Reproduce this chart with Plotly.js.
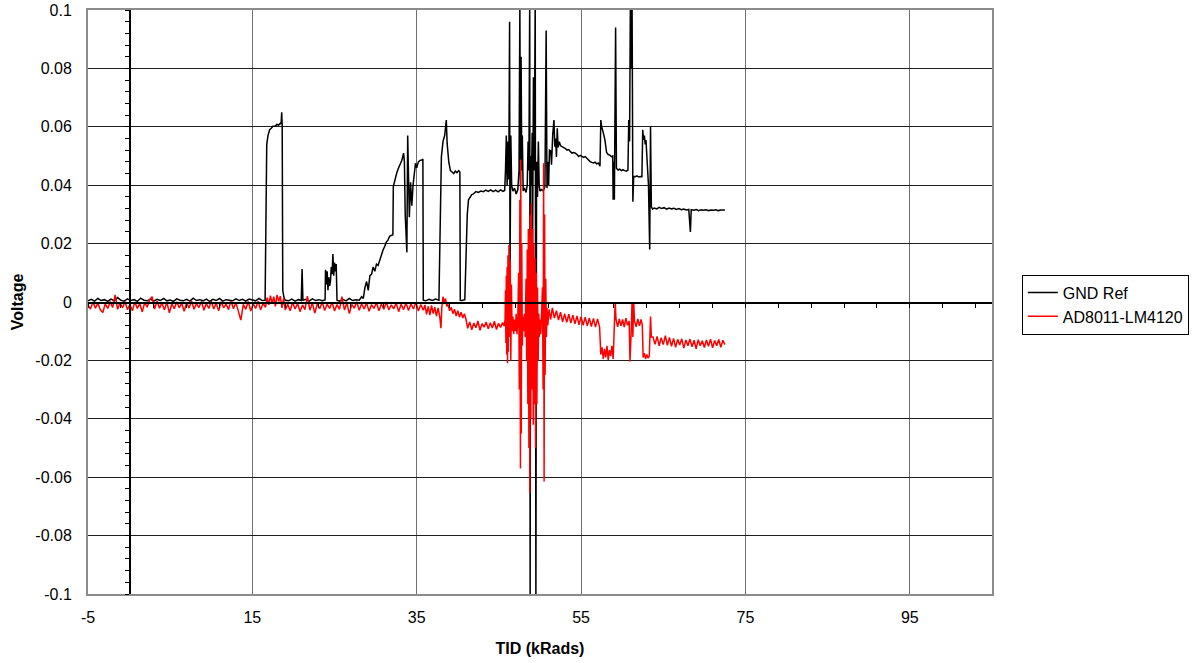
<!DOCTYPE html>
<html><head><meta charset="utf-8">
<script src="https://cdn.plot.ly/plotly-3.0.1.min.js"></script>
<style>html,body{margin:0;padding:0;background:#fff}#chart{width:1199px;height:663px}</style>
</head><body><div id="chart"></div>
<script>
const seriesNames = ['GND Ref', 'AD8011-LM4120'];

const gndX = [
-5,-4.6,-4.2,-3.8,-3.4,-3.0,-2.6,-2.2,-1.8,-1.4, -1.0,-0.6,-0.2,0.2,0.6,1.0,1.4,1.8,2.2,2.6,
3.0,3.4,3.8,4.2,4.6,5.0,5.4,5.8,6.2,6.6, 7.0,7.4,7.8,8.2,8.6,9.0,9.4,9.8,10.2,10.6,
11.0,11.4,11.8,12.2,12.6,13.0,13.4,13.8,14.2,14.6, 15.0,15.4,15.8,16.2,16.55,
16.65,16.75,16.9,17.1,17.3,17.5,17.8,18.0,18.2,18.4,18.5,18.57,18.63,18.7,18.85,19.0,
19.4,19.8,20.2,20.6,20.95,21.05,21.15,21.5,21.9,22.3,22.7,23.1,23.5,23.85,
23.9,24.0,24.1,24.2,24.3,24.4,24.5,24.6,24.7,24.8,24.9,25.0,25.1,25.2,25.3,
25.6,26.0,26.4,26.8,27.2,27.6,28.0,
28.3,28.5,28.7,28.9,29.1,29.3,29.5,29.7,29.9,30.1, 30.3,30.5,30.7,30.9,31.1,31.3,31.5,31.7,31.9,32.1,
32.15,32.4,32.6,32.8,33.0,33.2,33.4,33.5,33.6,33.7, 33.8,33.9,34.0,34.1,34.25,34.4,34.55,34.7,34.85,35.0,
35.2,35.4,35.6,35.75,35.8,
36.1,36.5,36.9,37.3,37.7,
37.8,37.9,38.0,38.2,38.4,38.6,38.7,38.9,39.1,39.3,39.5,39.7,39.9,40.1,40.25,40.3,
40.5,40.85,
40.95,41.05,41.15,41.3,41.5,41.7,41.9,42.2,42.5,42.8, 43.1,43.4,43.7,44.0,44.3,44.6,44.9,45.2,45.5,45.7,
45.8,45.9,46.0,46.1,46.2,46.3,46.35,46.45,46.55,46.7, 46.9,47.1,47.3,47.45,47.55,47.62,47.7,47.78,47.85,47.95,
48.1,48.3,48.45,48.55,48.65,48.75,48.8,48.85,48.95,49.05, 49.1,49.2,49.3,49.42,49.5,49.58,49.7,49.8,49.9,50.0,
50.2,50.4,50.6,50.75,50.85,50.95,51.05,
51.15,51.3,51.4,51.55,51.7,51.8,51.9,52.0,52.1,52.2, 52.35,52.5,52.7,52.9,53.1,53.3,53.5,53.7,53.9,54.1,
54.3,54.5,54.7,54.9,55.1,55.3,55.5,55.7,55.9,56.1, 56.3,56.5,56.7,56.9,57.1,57.3,
57.4,57.5,57.7,57.9,58.1,58.3,58.5,58.7,58.85,58.9, 58.95,59.05,59.2,59.3,59.5,59.7,59.9,60.1,60.3,60.5,
60.7,60.8,60.9,61.0,61.1,61.2,61.3,61.4,61.6,61.8, 62.0,62.2,62.4,
62.5,62.6,62.7,62.8,62.9,63.0,63.1,63.2,63.35,63.45, 63.55,63.7,63.9,64.2,64.5,64.8,65.1,65.4,65.7,66.0,
66.3,66.6,66.9,67.2,67.5,67.8,68.1,68.3,68.4,68.7, 69.0,69.3,69.6,69.9,70.2,70.5,70.8,71.1,71.4,71.7,
72.0,72.3,72.5
];
const gndY = [
0.0004,0.0009,0.0003,0.0012,0.0005,0.0008,0.0002,0.0010,0.0004,0.0015, 0.0006,0.0003,0.0011,0.0005,0.0008,0.0002,0.0013,0.0006,0.0004,0.0010,
0.0003,0.0009,0.0005,0.0012,0.0004,0.0007,0.0002,0.0011,0.0006,0.0004, 0.0009,0.0003,0.0013,0.0005,0.0008,0.0004,0.0010,0.0002,0.0009,0.0005,
0.0012,0.0003,0.0008,0.0006,0.0004,0.0011,0.0005,0.0009,0.0003,0.0010, 0.0006,0.0004,0.0012,0.0005,0.0006,
0.040,0.054,0.057,0.059,0.0595,0.0602,0.0603,0.0608,0.0606,0.0612,0.061,0.065,0.060,0.004,0.0015,0.0006,
0.0004,0.0010,0.0003,0.0008,0.0005,0.0113,0.0006,0.0009,0.0003,0.0011,0.0005,0.0008,0.0004,0.0007,
0.011,0.006,0.0105,0.004,0.0085,0.0055,0.007,0.012,0.0095,0.0164,0.009,0.0135,0.0105,0.013,0.0006,
0.0003,0.0009,0.0004,0.0012,0.0005,0.0008,0.0006,
0.0018,0.0012,0.005,0.007,0.004,0.009,0.0095,0.012,0.0105,0.013, 0.0125,0.0144,0.016,0.0178,0.019,0.0205,0.0212,0.0225,0.0228,0.023,
0.0395,0.043,0.0445,0.046,0.0475,0.0486,0.051,0.048,0.030,0.024, 0.017,0.057,0.045,0.029,0.041,0.033,0.040,0.043,0.0475,0.046,
0.048,0.0485,0.0486,0.049,0.0006,
0.0004,0.0009,0.0005,0.0010,0.0006,
0.020,0.033,0.0497,0.055,0.057,0.0623,0.0543,0.048,0.045,0.0445,0.044,0.0448,0.0443,0.045,0.0445,0.0006,
0.0005,0.0008,
0.0144,0.022,0.030,0.035,0.036,0.0368,0.037,0.0378,0.0375,0.038, 0.0378,0.0383,0.0379,0.0384,0.0378,0.0383,0.0377,0.0384,0.0379,0.0382,
0.045,0.057,0.040,0.055,0.042,0.096,0.0087,0.057,0.040,0.038, 0.039,0.037,0.0385,0.045,0.102,0.040,0.084,0.045,0.057,0.038,
0.039,0.0375,0.040,0.055,0.045,0.105,-0.105,0.050,0.040,0.058, 0.018,0.077,0.045,0.105,-0.105,0.048,0.036,0.055,0.040,0.038,
0.0385,0.038,0.0395,0.093,0.039,0.048,0.040,
0.052,0.0518,0.047,0.0575,0.0623,0.0532,0.056,0.0497,0.0595,0.053, 0.0549,0.0535,0.0532,0.0528,0.0525,0.052,0.0522,0.0515,0.051,0.0512,
0.051,0.0505,0.0498,0.0502,0.0497,0.0495,0.0498,0.0492,0.0486,0.0481, 0.0478,0.0476,0.0479,0.0473,0.0476,0.0465,
0.0623,0.060,0.058,0.0555,0.0512,0.0505,0.0503,0.0498,0.0500,0.035, 0.048,0.035,0.094,0.0458,0.0452,0.0455,0.045,0.0453,0.045,0.0448,
0.0452,0.0623,0.055,0.105,0.080,0.105,0.0343,0.043,0.0429,0.0432, 0.0428,0.043,0.0429,
0.059,0.0555,0.057,0.054,0.0555,0.050,0.045,0.040,0.018,0.060, 0.0326,0.0318,0.0322,0.0319,0.0324,0.032,0.0323,0.0318,0.0322,0.0319,
0.0321,0.0317,0.032,0.0316,0.0318,0.0315,0.0317,0.024,0.0316,0.0314, 0.0317,0.0313,0.0316,0.0314,0.0316,0.0313,0.0315,0.0314,0.0316,0.0313,
0.0315,0.0314,0.0315
];

const adX = [
-5,-4.7,-4.4,-4.1,-3.8,-3.5,-3.2,-2.9,-2.6,-2.3, -2.0,-1.7,-1.4,-1.1,-0.8,-0.5,-0.2,0.1,0.4,0.7,
1.0,1.3,1.6,1.9,2.2,2.5,2.8,3.1,3.4,3.7, 4.0,4.3,4.6,4.9,5.2,5.5,5.8,6.1,6.4,6.7,
7.0,7.3,7.6,7.9,8.2,8.5,8.8,9.1,9.4,9.7, 10.0,10.3,10.6,10.9,11.2,11.5,11.8,12.1,12.4,12.7,
13.0,13.3,13.6,13.9,14.2,14.5,14.8,15.1,15.4,15.7, 16.0,16.3,16.6,
16.8,17.0,17.2,17.4,17.6,17.8,18.0,18.2,18.4,18.6,18.8,19.0,
19.3,19.6,19.9,20.2,20.5,20.8,21.1,21.4,21.7,22.0, 22.3,22.6,22.9,23.2,23.5,23.8,24.1,24.4,24.7,25.0,
25.3,25.6,25.9,26.2,26.5,26.8,27.1,27.4,27.7,28.0, 28.3,28.6,28.9,29.2,29.5,29.8,30.1,30.4,30.7,31.0,
31.3,31.6,31.9,32.2,32.5,32.8,33.1,33.4,33.7,34.0, 34.3,34.6,34.9,35.2,35.5,
35.8,36.0,36.2,36.4,36.6,36.8,37.0,37.2,37.4,37.6, 37.8,37.95,38.05,38.2,38.35,38.5,38.65,38.8,39.0,39.2,
39.4,39.6,39.8,40.0,40.2,40.4,40.6,40.8,41.0,
41.2,41.45,41.7,41.95,42.2,42.45,42.7,42.95,43.2,43.45, 43.7,43.95,44.2,44.45,44.7,44.95,45.2,45.45,45.65,
45.75,45.8,45.85,45.9,45.95,46.0,46.05,46.1,46.15,46.22, 46.3,46.38,46.45,46.52,46.6,46.7,46.8,46.9,47.0,47.1,
47.2,47.3,47.4,47.48,47.55,47.62,47.66,47.72,47.78,47.85, 47.92,48.0,48.1,48.2,48.3,48.38,48.45,48.52,48.58,48.65,
48.7,48.76,48.82,48.88,48.95,49.02,49.1,49.18,49.25,49.32, 49.4,49.47,49.55,49.62,49.7,49.78,49.85,49.92,50.0,50.1,
50.2,50.3,50.38,50.44,50.5,50.56,50.62,50.7,50.78,50.86, 50.95,
51.1,51.3,51.5,51.75,52.0,52.25,52.5,52.75,53.0,53.25, 53.5,53.75,54.0,54.25,54.5,54.75,55.0,55.25,55.5,55.75,
56.0,56.25,56.5,56.75,57.0,57.25,
57.4,57.55,57.7,57.85,58.0,58.15,58.3,58.45,58.6,58.75, 58.9,59.05,59.15,59.25,59.45,59.65,59.85,60.05,60.25,60.45,
60.65,60.85,60.95,61.1,61.2,61.3,61.4,61.5,61.7,61.9, 62.1,62.3,62.45,62.55,62.7,62.85,63.0,63.15,63.3,63.45,
63.55,
63.75,64.0,64.25,64.5,64.75,65.0,65.25,65.5,65.75,66.0, 66.25,66.5,66.75,67.0,67.25,67.5,67.75,68.0,68.25,68.5,
68.75,69.0,69.25,69.5,69.75,70.0,70.25,70.5,70.75,71.0, 71.25,71.5,71.75,72.0,72.25,72.5
];
const adY = [
-0.0010,-0.0024,0.0000,-0.0021,-0.0004,-0.0027,-0.0036,-0.0006,-0.0022,0.0002, -0.0019,0.0024,-0.0025,-0.0003,-0.0020,0.0001,-0.0026,-0.0008,-0.0030,0.0000,
-0.0022,-0.0005,-0.0034,-0.0002,-0.0018,0.0008,0.0018,-0.0024,0.0003,-0.0021, -0.0003,-0.0027,-0.0001,-0.0037,-0.0006,-0.0023,0.0001,-0.0020,-0.0004,-0.0032,
-0.0002,-0.0021,0.0004,-0.0025,-0.0006,-0.0019,0.0002,-0.0028,-0.0005,-0.0022, 0.0003,-0.0024,-0.0004,-0.0030,0.0001,-0.0020,-0.0007,-0.0026,0.0004,-0.0023,
-0.0002,-0.0029,-0.0062,-0.0008,-0.0025,0.0002,-0.0031,-0.0006,-0.0022,0.0003, -0.0027,-0.0005,-0.0018,
0.0015,-0.0010,0.0022,-0.0005,0.0018,-0.0015,0.0024,0.0002,0.0020,-0.0020,0.0012,-0.0027,
-0.0008,-0.0030,-0.0002,-0.0024,-0.0005,-0.0033,-0.0010,-0.0026,0.0020,-0.0028, -0.0003,-0.0038,-0.0006,-0.0023,0.0000,-0.0029,-0.0007,-0.0022,-0.0001,-0.0031,
-0.0009,-0.0025,0.0018,-0.0027,-0.0004,-0.0040,-0.0008,-0.0021,0.0001,-0.0028, -0.0006,-0.0024,-0.0003,-0.0032,-0.0009,-0.0022,-0.0002,-0.0030,-0.0007,-0.0025,
0.0000,-0.0027,-0.0010,-0.0023,-0.0004,-0.0033,-0.0008,-0.0026,-0.0003,-0.0029, -0.0006,-0.0024,-0.0001,-0.0031,-0.0009,
-0.0028,-0.0010,-0.0042,-0.0015,-0.0045,-0.0012,-0.0040,-0.0018,-0.0048,-0.0020, -0.0050,-0.0090,-0.0020,0.0018,-0.0005,0.0012,-0.0015,-0.0008,-0.0030,-0.0018,
-0.0040,-0.0025,-0.0048,-0.0030,-0.0052,-0.0035,-0.0055,-0.0040,-0.0060,
-0.0090,-0.0068,-0.0095,-0.0072,-0.0088,-0.0065,-0.0097,-0.0074,-0.0086,-0.0069, -0.0092,-0.0071,-0.0089,-0.0066,-0.0094,-0.0073,-0.0087,-0.0070,-0.0083,
-0.006,0.004,-0.014,0.009,-0.018,0.012,-0.021,0.016,-0.017,0.0195, -0.012,0.014,-0.020,0.006,-0.010,-0.005,-0.011,-0.006,-0.010,-0.004,
-0.011,-0.006,0.010,-0.030,0.035,-0.057,0.0488,-0.045,0.020,-0.015, -0.005,-0.010,-0.004,-0.012,0.008,-0.020,0.018,-0.035,0.025,-0.050,
0.023,-0.0654,0.030,-0.040,0.0338,-0.030,0.025,-0.042,0.020,-0.035, 0.015,-0.050,0.010,-0.035,0.005,-0.020,-0.004,-0.012,-0.006,-0.011,
-0.005,0.005,-0.030,0.0475,-0.0615,0.030,-0.025,0.008,-0.012,-0.002, -0.008,
-0.0025,-0.0060,-0.0020,-0.0055,-0.0030,-0.0062,-0.0035,-0.0068,-0.0040,-0.0070, -0.0042,-0.0072,-0.0045,-0.0075,-0.0048,-0.0078,-0.0050,-0.0080,-0.0052,-0.0082,
-0.0055,-0.0084,-0.0056,-0.0086,-0.0058,-0.0085,
-0.0180,-0.0155,-0.0195,-0.0160,-0.0190,-0.0150,-0.0198,-0.0165,-0.0185,-0.0150, -0.0195,-0.0080,0.0000,-0.0060,-0.0085,-0.0058,-0.0082,-0.0060,-0.0086,-0.0055,
-0.0080,-0.0065,-0.0204,-0.0100,0.0000,-0.0120,0.0000,-0.0065,-0.0085,-0.0058, -0.0082,-0.0060,-0.0080,-0.0190,-0.0175,-0.0195,-0.0180,-0.0192,-0.0185,-0.0050,
-0.0120,
-0.0120,-0.0145,-0.0118,-0.0150,-0.0122,-0.0146,-0.0115,-0.0148,-0.0121,-0.0152, -0.0125,-0.0155,-0.0128,-0.0147,-0.0126,-0.0158,-0.0130,-0.0150,-0.0127,-0.0153,
-0.0131,-0.0160,-0.0129,-0.0150,-0.0133,-0.0156,-0.0130,-0.0152,-0.0127,-0.0157, -0.0132,-0.0150,-0.0128,-0.0155,-0.0131,-0.0146
];

const xTickVals = [-5, 15, 35, 55, 75, 95];
const xTickText = ['-5', '15', '35', '55', '75', '95'];
const yTickVals = [0.1, 0.08, 0.06, 0.04, 0.02, 0, -0.02, -0.04, -0.06, -0.08, -0.1];
const yTickText = ['0.1', '0.08', '0.06', '0.04', '0.02', '0', '-0.02', '-0.04', '-0.06', '-0.08', '-0.1'];

const FONT = 'Liberation Sans, Arial, Helvetica, sans-serif';

const traces = [
  {x: gndX, y: gndY, name: seriesNames[0], type: 'scatter', mode: 'lines',
   line: {color: '#000000', width: 1.5}, xaxis: 'x', yaxis: 'y', hoverinfo: 'skip'},
  {x: adX, y: adY, name: seriesNames[1], type: 'scatter', mode: 'lines',
   line: {color: '#ff0000', width: 1.5}, xaxis: 'x2', yaxis: 'y2', hoverinfo: 'skip'}
];

const layout = {
  width: 1199, height: 663,
  margin: {l: 88, r: 207, t: 10, b: 69, pad: 0},
  paper_bgcolor: '#ffffff', plot_bgcolor: '#ffffff',
  font: {family: FONT, size: 16, color: '#000000'},
  showlegend: true,
  legend: {x: 1.033, xanchor: 'left', y: 0.547, yanchor: 'top',
           bordercolor: '#000000', borderwidth: 1, bgcolor: '#ffffff',
           font: {family: FONT, size: 16, color: '#000000'}, itemwidth: 30, tracegroupgap: 0},
  xaxis: {range: [-5, 105], tickmode: 'array', tickvals: xTickVals, ticktext: xTickText,
          showgrid: true, gridcolor: '#707070', gridwidth: 1, zeroline: false,
          showline: true, mirror: true, linecolor: '#8c8c8c', linewidth: 2,
          ticks: '', ticklabelstandoff: 8, tickfont: {family: FONT, size: 16},
          title: {text: '<b>TID (kRads)</b>', font: {family: FONT, size: 16}, standoff: 18}},
  yaxis: {range: [-0.1, 0.1], tickmode: 'array', tickvals: yTickVals, ticktext: yTickText,
          showgrid: true, gridcolor: '#1e1e1e', gridwidth: 1, zeroline: false,
          showline: true, mirror: true, linecolor: '#8c8c8c', linewidth: 2,
          ticks: '', ticklabelstandoff: 11, tickfont: {family: FONT, size: 16},
          title: {text: '<b>Voltage</b>', font: {family: FONT, size: 16}, standoff: 8}},
  xaxis2: {overlaying: 'x', anchor: 'free', position: 0.5, range: [-5, 105],
           showgrid: false, zeroline: false, showline: true, linecolor: '#000000', linewidth: 1.5,
           ticks: 'outside', tickmode: 'linear', tick0: -5, dtick: 4, ticklen: 4, tickwidth: 1,
           tickcolor: '#000000', showticklabels: false},
  yaxis2: {overlaying: 'y', anchor: 'free', position: 5 / 110, side: 'left', range: [-0.1, 0.1],
           showgrid: false, zeroline: false, showline: true, linecolor: '#000000', linewidth: 1.5,
           ticks: 'outside', tickmode: 'linear', tick0: 0, dtick: 0.004, ticklen: 4, tickwidth: 1,
           tickcolor: '#000000', showticklabels: false}
};

Plotly.newPlot('chart', traces, layout, {staticPlot: true, displayModeBar: false});
</script>
</body></html>
